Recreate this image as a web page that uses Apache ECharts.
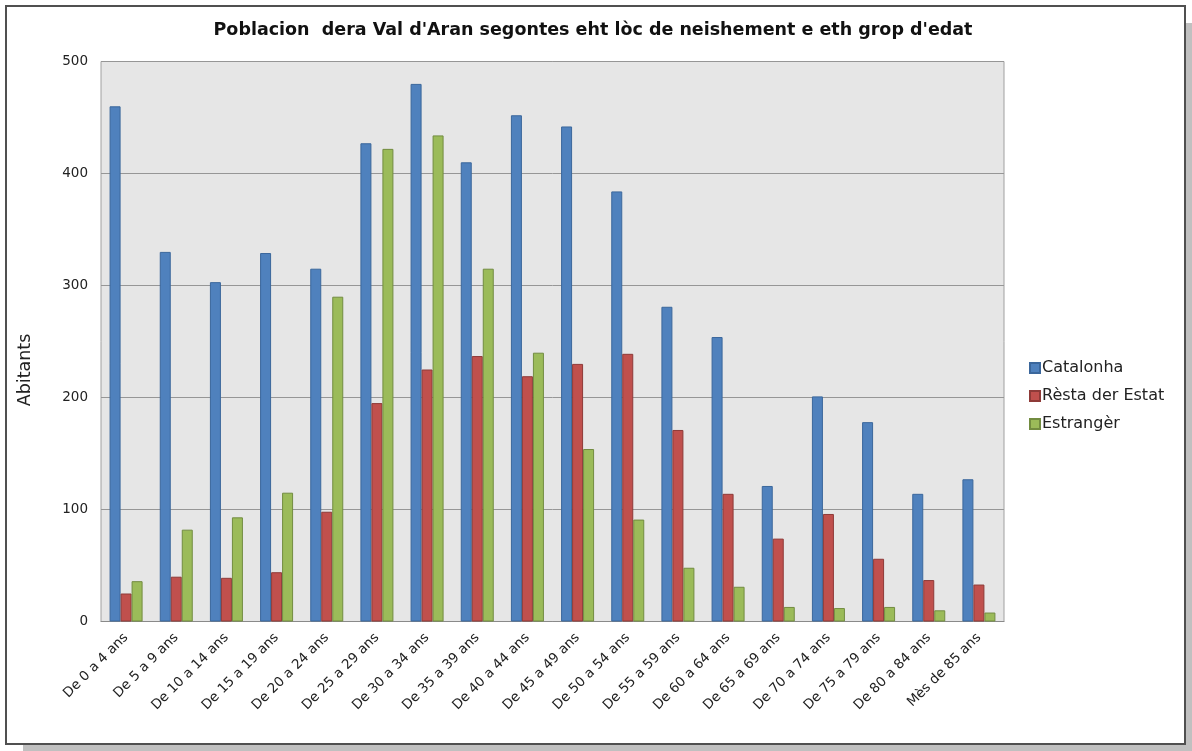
<!DOCTYPE html>
<html>
<head>
<meta charset="utf-8">
<script src="https://cdn.jsdelivr.net/npm/echarts@6/dist/echarts.min.js"></script>
<style>
  html, body { margin: 0; padding: 0; background: #fff; }
  #chart { width: 1192px; height: 751px; }
</style>
</head>
<body>
<div id="chart"></div>
<script>
// grups d'edat
const categories = [
  'De 0 a 4 ans', 'De 5 a 9 ans', 'De 10 a 14 ans', 'De 15 a 19 ans',
  'De 20 a 24 ans', 'De 25 a 29 ans', 'De 30 a 34 ans', 'De 35 a 39 ans',
  'De 40 a 44 ans', 'De 45 a 49 ans', 'De 50 a 54 ans', 'De 55 a 59 ans',
  'De 60 a 64 ans', 'De 65 a 69 ans', 'De 70 a 74 ans', 'De 75 a 79 ans',
  'De 80 a 84 ans', 'Mès de 85 ans'
];

const catalonha = [460, 330, 303, 329, 315, 427, 480, 410, 452, 442, 384, 281, 254, 121, 201, 178, 114, 127];
const restaEstat = [25, 40, 39, 44, 98, 195, 225, 237, 219, 230, 239, 171, 114, 74, 96, 56, 37, 33];
const estranger = [36, 82, 93, 115, 290, 422, 434, 315, 240, 154, 91, 48, 31, 13, 12, 13, 10, 8];

const yTicks = { min: 0, max: 500, interval: 100 };

const chart = echarts.init(document.getElementById('chart'), null, { renderer: 'canvas' });

const FONT = 'DejaVu Sans';

function barSeries(name, data, fill, edge) {
  return {
    name: name,
    type: 'bar',
    data: data,
    barWidth: 11,
    barGap: '0%',
    itemStyle: {
      color: fill,
      borderColor: edge,
      borderWidth: 1
    },
    emphasis: { disabled: true }
  };
}

const option = {
  animation: false,
  backgroundColor: '#ffffff',
  title: {
    text: "Poblacion  dera Val d'Aran segontes eht lòc de neishement e eth grop d'edat",
    left: 588,
    textAlign: 'center',
    top: 16,
    textStyle: {
      fontFamily: FONT,
      fontSize: 17.5,
      fontWeight: 'bold',
      color: '#111'
    }
  },
  legend: {
    orient: 'vertical',
    left: 1024,
    top: 355,
    itemWidth: 10,
    itemHeight: 10,
    itemGap: 12,
    icon: 'rect',
    textStyle: {
      fontFamily: FONT,
      fontSize: 16,
      color: '#222',
      padding: [0, 0, 0, -3]
    },
    data: ['Catalonha', 'Rèsta der Estat', 'Estrangèr']
  },
  grid: {
    left: 101,
    top: 61.5,
    right: 188,
    bottom: 129.5,
    show: true,
    backgroundColor: '#e6e6e6',
    borderColor: '#a0a0a0',
    borderWidth: 1
  },
  xAxis: {
    type: 'category',
    data: categories,
    axisLine: { lineStyle: { color: '#8a8a8a', width: 1 } },
    axisTick: { show: false },
    axisLabel: {
      rotate: 45,
      interval: 0,
      margin: 14,
      fontFamily: FONT,
      fontSize: 13.5,
      color: '#222'
    }
  },
  yAxis: {
    type: 'value',
    min: yTicks.min,
    max: yTicks.max,
    interval: yTicks.interval,
    axisLine: { show: false },
    axisTick: { show: false },
    axisLabel: {
      margin: 13,
      fontFamily: FONT,
      fontSize: 13.5,
      color: '#222'
    },
    splitLine: { lineStyle: { color: '#969696', width: 1 } }
  },
  graphic: [
    // ombra dera trama
    { type: 'rect', z: -10, shape: { x: 1186, y: 23, width: 6, height: 728 }, style: { fill: '#c0c0c0' } },
    { type: 'rect', z: -10, shape: { x: 23, y: 745, width: 1169, height: 6 }, style: { fill: '#c0c0c0' } },
    {
      type: 'rect', z: -5,
      shape: { x: 6, y: 6, width: 1179, height: 738 },
      style: { fill: '#ffffff', stroke: '#505050', lineWidth: 2 }
    },
    {
      type: 'text',
      x: 25, y: 370,
      rotation: Math.PI / 2,
      style: {
        text: 'Abitants',
        fontFamily: FONT,
        fontSize: 17.5,
        fill: '#222',
        align: 'center',
        verticalAlign: 'middle'
      }
    }
  ],
  series: [
    barSeries('Catalonha', catalonha, '#4f81bd', '#3b679c'),
    barSeries('Rèsta der Estat', restaEstat, '#c0504d', '#8e3a38'),
    barSeries('Estrangèr', estranger, '#9bbb59', '#728c40')
  ]
};

chart.setOption(option);
</script>
</body>
</html>
